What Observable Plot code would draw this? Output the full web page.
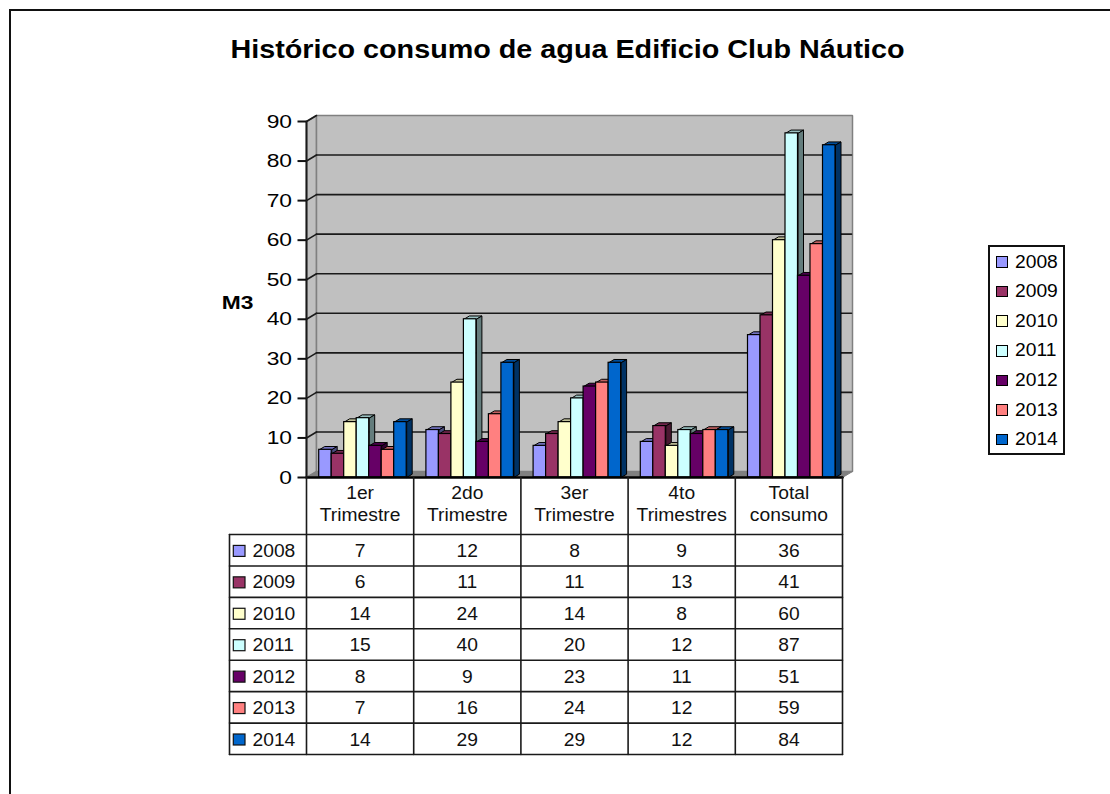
<!DOCTYPE html>
<html><head><meta charset="utf-8">
<script src="https://cdn.jsdelivr.net/npm/d3@7"></script>
<script src="https://cdn.jsdelivr.net/npm/@observablehq/plot@0.6"></script>
<style>
html,body{margin:0;padding:0;background:#fff}
#page{position:relative;width:1110px;height:794px;overflow:hidden;font-family:"Liberation Sans",Arial,sans-serif;color:#000}
#frame{position:absolute;left:9px;top:9px;width:1200px;height:900px;border:2px solid #111}
#title{position:absolute;left:0;width:1135px;top:36px;text-align:center;font-weight:bold;font-size:25px;line-height:26px;transform:scaleX(1.15);transform-origin:567.5px 0}
#chart{position:absolute;left:0;top:0}
#legend{position:absolute;left:988px;top:245px;width:73px;height:206px;border:2px solid #111;background:#fff;font-size:17.5px}
#legend .it{position:absolute;left:6px;display:flex;align-items:center;height:20px}
#legend .sw{width:9.5px;height:9.5px;border:1px solid #000;margin-right:7px}
#legend .t{display:inline-block;transform:scaleX(1.1);transform-origin:0 50%}
</style></head><body>
<div id="page"><div id="frame"></div><div id="title">Histórico consumo de agua Edificio Club Náutico</div><div id="chart"></div><div id="legend"></div></div>
<script>
const categories = [["1er","Trimestre"],["2do","Trimestre"],["3er","Trimestre"],["4to","Trimestres"],["Total","consumo"]];
const years = ["2008","2009","2010","2011","2012","2013","2014"];
const s2008 = [7,12,8,9,36];
const s2009 = [6,11,11,13,41];
const s2010 = [14,24,14,8,60];
const s2011 = [15,40,20,12,87];
const s2012 = [8,9,23,11,51];
const s2013 = [7,16,24,12,59];
const s2014 = [14,29,29,12,84];
const series = [s2008,s2009,s2010,s2011,s2012,s2013,s2014];
const colors = ["#9999FF","#993366","#FFFFCC","#CCFFFF","#660066","#FF8080","#0066CC"];
const yTicks = [0,10,20,30,40,50,60,70,80,90];

// layout (pixels of the SVG)
const L=306,R=842,T=121,B=477,W=1110,H=794;
const cw=(R-L)/5, uh=(B-T)/90;
const dx=px=>px/cw, dy=px=>px/uh;      // pixel lengths in data units
const X=px=>(px-L)/cw, Y=px=>(B-px)/uh; // layout pixels in data units
const wallDX=dx(10), wallDY=dy(6), barDX=dx(5.5), barDY=dy(3.3);
const barW=dx(12.5), barStart=dx(12.7);

const poly=(pts,fill,stroke,sw=1)=>Plot.line(pts.map(([x,y])=>({x,y})),{x:"x",y:"y",fill,stroke,strokeWidth:sw,strokeLinejoin:"miter"});
const seg=(x1,y1,x2,y2,sw=1.6,stroke="#1a1a1a")=>Plot.line([{x:x1,y:y1},{x:x2,y:y2}],{x:"x",y:"y",stroke,strokeWidth:sw});
const shade=(c,k)=>d3.rgb(c).darker(k).formatHex();

const marks=[];
// walls and floor
marks.push(poly([[0,90],[wallDX,90+wallDY],[wallDX,wallDY],[0,0],[0,90]],"#c0c0c0","#808080",1.5));
marks.push(poly([[wallDX,90+wallDY],[5+wallDX,90+wallDY],[5+wallDX,wallDY],[wallDX,wallDY],[wallDX,90+wallDY]],"#c0c0c0","#808080",1.5));
marks.push(poly([[0,0],[wallDX,wallDY],[5+wallDX,wallDY],[5,0],[0,0]],"#808080","#808080",1));
// gridlines
for(const v of yTicks){ if(v===0) continue;
  if(v<90) marks.push(seg(wallDX,v+wallDY,5+dx(9),v+wallDY));
  marks.push(seg(0,v,wallDX,v+wallDY));
}
// bars
categories.forEach((c,ci)=>{
  series.forEach((s,si)=>{
    const v=s[ci], x0=ci+barStart+si*barW, x1=x0+barW, col=colors[si];
    marks.push(poly([[x0,v],[x0+barDX,v+barDY],[x1+barDX,v+barDY],[x1,v],[x0,v]],shade(col,0.8),"#000",1));
    marks.push(poly([[x1,0],[x1+barDX,barDY],[x1+barDX,v+barDY],[x1,v],[x1,0]],shade(col,2),"#000",1));
    marks.push(Plot.rect([{x1:x0,x2:x1,y1:0,y2:v}],{x1:"x1",x2:"x2",y1:"y1",y2:"y2",fill:col,stroke:"#000",strokeWidth:1.2}));
  });
});
// floor front line and front axis
marks.push(seg(0,0,5,0,2.5,"#000"));
marks.push(seg(0,0,0,90,2,"#1a1a1a"));
marks.push(Plot.axisY({ticks:yTicks,tickSize:8.5,tickPadding:6,fontSize:19,fontFamily:"Liberation Sans",stroke:"#111",strokeWidth:2,label:null,tickFormat:d=>String(d)}));
marks.push(Plot.text(["M3"],{x:X(237),y:Y(302),text:d=>d,fontSize:19,fontWeight:"bold",fontFamily:"Liberation Sans",fill:"#000"}));

// data table
const headTop=Y(477), rowTop=Y(534), rowH=31.43/uh;
const rowY=i=>rowTop-i*rowH;
const colLeft=X(229);
for(let i=0;i<=5;i++) marks.push(seg(i,headTop,i,rowY(7),1.6));
marks.push(seg(colLeft,rowTop,colLeft,rowY(7),1.6));
for(let i=0;i<=7;i++) marks.push(seg(colLeft,rowY(i),5,rowY(i),1.6));
const textOpts={fontSize:17.5,fontFamily:"Liberation Sans",fill:"#111"};
categories.forEach((c,ci)=>{
  c.forEach((t,li)=>marks.push(Plot.text([t],{x:ci+0.5,y:Y(493+li*22),text:d=>d,...textOpts})));
});
years.forEach((yr,si)=>{
  const yc=rowY(si)-rowH/2-dy(1.2);
  marks.push(Plot.text([yr],{x:X(252),y:yc,text:d=>d,textAnchor:"start",...textOpts}));
  marks.push(Plot.rect([{}],{x1:X(233.3),x2:X(245),y1:yc+dy(5.5),y2:yc-dy(5.5),fill:colors[si],stroke:"#111",strokeWidth:1.2}));
  series[si].forEach((v,ci)=>marks.push(Plot.text([v],{x:ci+0.5,y:yc,text:d=>String(d),...textOpts})));
});

const plot=Plot.plot({width:W,height:H,marginLeft:L,marginRight:W-R,marginTop:T,marginBottom:H-B,
  x:{domain:[0,5],axis:null},y:{domain:[0,90],axis:null},style:{background:"transparent",overflow:"visible"},marks});
document.getElementById("chart").append(plot);

// the reference text is slightly widened
plot.querySelectorAll("text").forEach(el=>{
  const k=parseFloat(getComputedStyle(el).fontSize)===17.5?1.1:1.2;
  el.setAttribute("textLength",el.getComputedTextLength()*k);
  el.setAttribute("lengthAdjust","spacingAndGlyphs");
});

const lg=document.getElementById("legend");
years.forEach((yr,i)=>{
  const d=document.createElement("div");d.className="it";d.style.top=(5+i*29.6)+"px";
  d.innerHTML=`<span class="sw" style="background:${colors[i]}"></span><span class="t">${yr}</span>`;
  lg.append(d);
});
</script></body></html>
